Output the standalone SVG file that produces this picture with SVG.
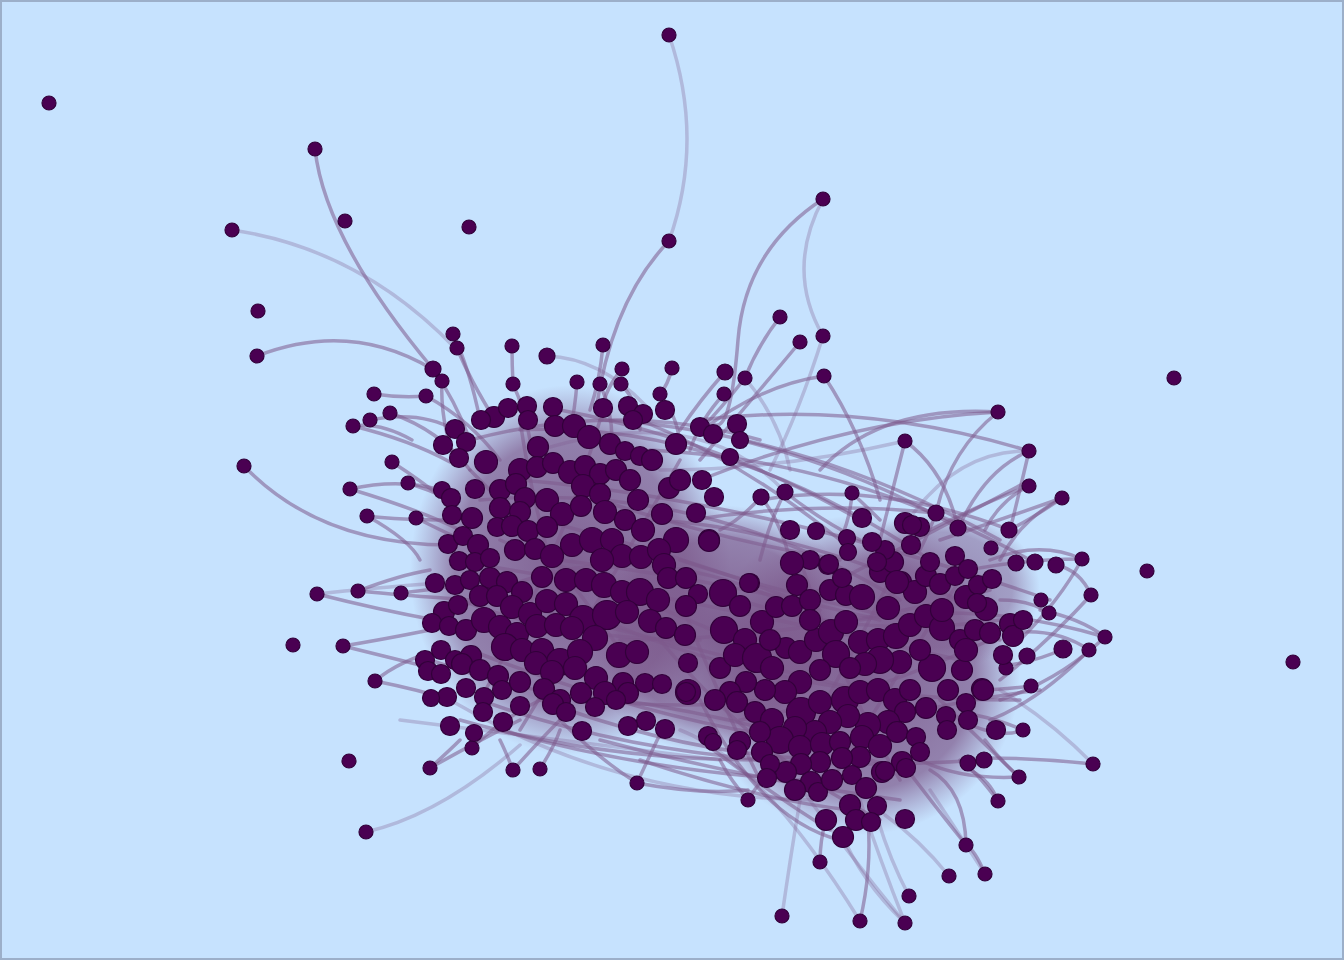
<svg xmlns="http://www.w3.org/2000/svg" width="1344" height="960" viewBox="0 0 1344 960">
<style>
.e path{fill:none;stroke:#7e5a8d;stroke-width:3.5;stroke-opacity:.55;stroke-linecap:round}
.e path.f{stroke-opacity:.3}
.n circle{fill:#4a0052;stroke:#32003a;stroke-width:1.2}
</style>
<defs>
<radialGradient id="bg1"><stop offset="0" stop-color="#7a5689" stop-opacity=".92"/><stop offset=".72" stop-color="#7e5b8d" stop-opacity=".72"/><stop offset="1" stop-color="#8a6c9c" stop-opacity="0"/></radialGradient>
</defs>
<rect x="1" y="1" width="1342" height="958" fill="#c6e2fe" stroke="#9cafc9" stroke-width="2"/>
<g id="backdrop">
<ellipse cx="570" cy="570" rx="160" ry="185" fill="url(#bg1)"/>
<ellipse cx="860" cy="675" rx="160" ry="160" fill="url(#bg1)"/>
<ellipse cx="720" cy="630" rx="140" ry="125" fill="url(#bg1)"/>
<ellipse cx="940" cy="590" rx="100" ry="80" fill="url(#bg1)" opacity=".7"/>
</g>
<g class="e" id="edges">
<path class="f" d="M669,35 Q705,140 669,241"/>
<path d="M669,241 Q612,300 596,410"/>
<path d="M823,199 Q745,250 738,340 T715,425"/>
<path class="f" d="M823,199 Q785,270 823,336"/>
<path d="M315,149 Q325,240 433,369"/>
<path class="f" d="M232,230 C300,240 380,270 455,348"/>
<path d="M257,356 Q350,320 432,369"/>
<path d="M244,466 Q320,545 450,545"/>
<path d="M780,317 Q758,345 745,378"/>
<path d="M824,376 Q760,385 700,432"/>
<path d="M998,412 Q880,405 820,470"/>
<path d="M1029,451 Q985,470 960,525"/>
<path d="M1029,451 Q1020,490 1010,530"/>
<path class="f" d="M1029,451 Q955,450 905,525"/>
<path d="M905,441 Q895,480 880,540"/>
<path d="M637,783 Q700,795 748,790"/>
<path d="M637,783 Q650,755 662,730"/>
<path class="f" d="M366,832 Q440,815 520,745"/>
<path d="M1093,764 Q1040,758 985,758"/>
<path d="M860,921 Q872,870 868,820"/>
<path d="M985,874 Q975,850 966,845"/>
<path d="M966,845 Q965,790 930,770"/>
<path class="f" d="M949,876 Q920,840 885,815"/>
<path d="M1105,637 Q1080,618 1040,610"/>
<path d="M1082,559 Q1040,540 990,560"/>
<path d="M1089,650 Q1060,630 1020,632"/>
<path class="f" d="M909,896 Q890,860 878,820"/>
<path class="f" d="M905,923 Q860,880 840,830"/>
<path d="M820,862 Q820,840 826,820"/>
<path d="M748,800 Q760,780 767,778"/>
<path d="M430,768 Q480,740 520,720"/>
<path d="M472,748 Q500,720 540,700"/>
<path d="M513,770 Q540,740 560,720"/>
<path d="M375,681 Q400,660 440,650"/>
<path d="M343,646 Q380,640 430,630"/>
<path class="f" d="M317,594 Q370,588 440,583"/>
<path d="M358,591 Q400,595 470,600"/>
<path d="M401,593 Q430,590 460,585"/>
<path d="M350,489 Q400,478 440,490"/>
<path d="M367,516 Q400,520 450,520"/>
<path d="M392,462 Q420,480 445,500"/>
<path d="M408,483 Q430,490 452,500"/>
<path d="M416,518 Q440,530 462,540"/>
<path d="M374,394 Q400,398 426,396"/>
<path d="M353,426 Q380,422 412,440"/>
<path d="M370,420 Q420,410 455,430"/>
<path d="M512,346 Q512,365 513,384"/>
<path class="f" d="M547,356 Q600,358 645,405"/>
<path d="M603,345 Q600,380 590,410"/>
<path d="M453,334 Q470,370 480,420"/>
<path d="M457,348 Q470,380 495,420"/>
<path d="M433,369 Q455,400 470,440"/>
<path d="M442,381 Q440,420 455,460"/>
<path d="M672,368 Q668,385 660,394"/>
<path d="M725,372 Q700,400 680,430"/>
<path d="M745,378 Q720,410 700,430"/>
<path d="M1029,486 Q1000,500 985,530"/>
<path d="M1062,498 Q1030,520 1009,530"/>
<path d="M1091,595 Q1080,570 1056,565"/>
<path d="M1063,649 Q1040,660 1010,665"/>
<path d="M1019,777 Q1000,760 985,740"/>
<path d="M998,801 Q990,780 970,770"/>
<path d="M1023,730 Q1000,720 975,715"/>
<path d="M1031,686 Q1000,690 980,690"/>
<path d="M1049,613 Q1030,600 1000,600"/>
<path d="M785,492 Q770,520 760,560"/>
<path d="M761,497 Q780,520 790,560"/>
<path d="M852,493 Q850,520 840,540"/>
<path d="M936,513 Q930,530 920,550"/>
<path class="f" d="M782,916 Q790,860 800,800"/>
<path d="M480,500 Q700,480 900,600"/>
<path d="M520,430 Q720,420 930,560"/>
<path d="M600,420 Q800,430 1000,540"/>
<path d="M650,450 Q850,460 1030,560"/>
<path d="M700,480 Q850,420 998,412"/>
<path d="M540,700 Q700,760 850,760"/>
<path d="M470,650 Q650,720 800,740"/>
<path d="M500,600 Q700,650 900,700"/>
<path d="M560,560 Q720,580 880,620"/>
<path d="M640,520 Q760,520 960,600"/>
<path d="M450,560 Q700,600 960,660"/>
<path d="M620,700 Q760,720 900,770"/>
<path d="M680,560 Q800,600 1000,640"/>
<path d="M520,480 Q760,500 1050,600"/>
<path d="M600,740 Q750,780 900,800"/>
<path d="M700,700 Q760,820 840,840"/>
<path d="M760,500 Q880,480 1010,530"/>
<path d="M700,420 Q860,400 1029,451"/>
<path d="M740,440 Q860,470 958,528"/>
<path d="M440,620 Q600,520 780,600"/>
<path d="M430,660 Q600,720 760,700"/>
<path class="f" d="M400,720 Q560,740 720,760"/>
<path class="f" d="M660,470 Q780,470 905,441"/>
<path d="M690,520 Q820,500 936,513"/>
<path d="M620,640 Q800,640 990,590"/>
<path d="M560,600 Q760,700 1020,700"/>
<path d="M480,700 Q700,780 980,760"/>
<path d="M640,760 Q760,800 850,810"/>
<path d="M700,740 Q780,800 830,830"/>
<path class="f" d="M540,450 Q700,400 785,492"/>
<path d="M460,600 Q560,640 700,640"/>
<path d="M500,540 Q640,600 760,650"/>
<path d="M540,520 Q700,560 820,610"/>
<path d="M600,500 Q720,540 840,560"/>
<path d="M470,470 Q560,560 620,650"/>
<path d="M520,420 Q540,560 600,700"/>
<path d="M600,420 Q560,560 480,700"/>
<path d="M680,460 Q600,600 520,730"/>
<path d="M800,560 Q840,680 900,780"/>
<path d="M900,560 Q840,680 780,780"/>
<path d="M960,580 Q880,700 820,800"/>
<path d="M740,600 Q860,640 1000,620"/>
<path d="M740,720 Q860,700 990,640"/>
<path d="M760,620 Q880,560 1030,480"/>
<path class="f" d="M680,730 Q760,760 860,921"/>
<path class="f" d="M740,700 Q820,820 905,923"/>
<path d="M880,720 Q960,700 1040,690"/>
<path d="M880,600 Q960,560 1082,559"/>
<path d="M860,620 Q980,600 1105,637"/>
<path d="M426,396 Q470,420 500,460"/>
<path d="M390,413 Q440,430 470,470"/>
<path d="M353,426 Q410,440 450,462"/>
<path d="M513,384 Q525,410 530,440"/>
<path d="M577,382 Q575,410 570,430"/>
<path d="M600,384 Q612,410 612,440"/>
<path d="M621,384 Q640,405 640,430"/>
<path d="M622,369 Q600,395 602,420"/>
<path d="M660,394 Q680,420 680,450"/>
<path d="M724,394 Q700,420 690,450"/>
<path class="f" d="M745,378 Q780,420 790,470"/>
<path d="M800,342 Q760,390 700,460"/>
<path class="f" d="M823,336 Q800,410 770,470"/>
<path d="M824,376 Q860,430 880,500"/>
<path d="M905,441 Q945,470 958,528"/>
<path d="M998,412 Q950,450 936,513"/>
<path d="M1062,498 Q1020,520 1000,560"/>
<path d="M1082,559 Q1060,600 1020,640"/>
<path d="M1091,595 Q1050,640 1000,680"/>
<path d="M1105,637 Q1060,680 1000,700"/>
<path d="M1089,650 Q1040,700 990,720"/>
<path class="f" d="M1093,764 Q1050,720 1000,690"/>
<path d="M1019,777 Q980,740 940,700"/>
<path d="M998,801 Q975,770 960,760"/>
<path d="M966,845 Q930,800 900,760"/>
<path class="f" d="M985,874 Q950,820 930,790"/>
<path class="f" d="M905,923 Q880,860 860,800"/>
<path d="M748,800 Q730,780 720,760"/>
<path d="M637,783 Q600,760 560,720"/>
<path d="M540,769 Q555,745 560,730"/>
<path d="M513,770 Q505,750 500,740"/>
<path d="M430,768 Q450,750 460,740"/>
<path d="M375,681 Q420,690 450,700"/>
<path d="M343,646 Q400,660 440,670"/>
<path d="M317,594 Q380,610 435,620"/>
<path d="M358,591 Q400,575 430,570"/>
<path d="M350,489 Q420,510 460,530"/>
<path d="M367,516 Q410,540 420,560"/>
<path d="M785,492 Q820,520 860,540"/>
<path d="M852,493 Q870,510 880,520"/>
<path d="M761,497 Q740,520 720,530"/>
<path d="M460,720 Q600,760 760,760"/>
<path d="M500,730 Q640,770 800,780"/>
<path class="f" d="M450,700 Q620,800 820,800"/>
<path d="M640,420 Q740,460 840,540"/>
<path d="M560,410 Q720,440 860,520"/>
<path d="M470,440 Q620,400 760,440"/>
<path d="M940,540 Q1000,520 1062,498"/>
<path d="M930,530 Q990,500 1029,486"/>
<path d="M960,720 Q1000,740 1023,730"/>
<path d="M920,760 Q960,780 1019,777"/>
<path d="M680,600 Q720,700 760,780"/>
<path d="M660,640 Q760,760 880,820"/>
</g>
<g class="n" id="nodes">
<g id="n1"><circle cx="49" cy="103" r="7"/></g>
<g id="n2"><circle cx="669" cy="35" r="7"/></g>
<g id="n3"><circle cx="1174" cy="378" r="7"/></g>
<g id="n4"><circle cx="1293" cy="662" r="7"/></g>
<g id="n5"><circle cx="1147" cy="571" r="7"/></g>
<g id="n6"><circle cx="469" cy="227" r="7"/></g>
<g id="n7"><circle cx="345" cy="221" r="7"/></g>
<g id="n8"><circle cx="258" cy="311" r="7"/></g>
<g id="n9"><circle cx="315" cy="149" r="7"/></g>
<g id="n10"><circle cx="232" cy="230" r="7"/></g>
<g id="n11"><circle cx="257" cy="356" r="7"/></g>
<g id="n12"><circle cx="244" cy="466" r="7"/></g>
<g id="n13"><circle cx="669" cy="241" r="7"/></g>
<g id="n14"><circle cx="823" cy="199" r="7"/></g>
<g id="n15"><circle cx="780" cy="317" r="7"/></g>
<g id="n16"><circle cx="800" cy="342" r="7"/></g>
<g id="n17"><circle cx="823" cy="336" r="7"/></g>
<g id="n18"><circle cx="824" cy="376" r="7"/></g>
<g id="n19"><circle cx="603" cy="345" r="7"/></g>
<g id="n20"><circle cx="512" cy="346" r="7"/></g>
<g id="n21"><circle cx="453" cy="334" r="7"/></g>
<g id="n22"><circle cx="457" cy="348" r="7"/></g>
<g id="n23"><circle cx="433" cy="369" r="8"/></g>
<g id="n24"><circle cx="442" cy="381" r="7"/></g>
<g id="n25"><circle cx="426" cy="396" r="7"/></g>
<g id="n26"><circle cx="374" cy="394" r="7"/></g>
<g id="n27"><circle cx="390" cy="413" r="7"/></g>
<g id="n28"><circle cx="353" cy="426" r="7"/></g>
<g id="n29"><circle cx="370" cy="420" r="7"/></g>
<g id="n30"><circle cx="513" cy="384" r="7"/></g>
<g id="n31"><circle cx="577" cy="382" r="7"/></g>
<g id="n32"><circle cx="600" cy="384" r="7"/></g>
<g id="n33"><circle cx="621" cy="384" r="7"/></g>
<g id="n34"><circle cx="622" cy="369" r="7"/></g>
<g id="n35"><circle cx="672" cy="368" r="7"/></g>
<g id="n36"><circle cx="660" cy="394" r="7"/></g>
<g id="n37"><circle cx="725" cy="372" r="8"/></g>
<g id="n38"><circle cx="745" cy="378" r="7"/></g>
<g id="n39"><circle cx="724" cy="394" r="7"/></g>
<g id="n40"><circle cx="998" cy="412" r="7"/></g>
<g id="n41"><circle cx="905" cy="441" r="7"/></g>
<g id="n42"><circle cx="1029" cy="451" r="7"/></g>
<g id="n43"><circle cx="1029" cy="486" r="7"/></g>
<g id="n44"><circle cx="1062" cy="498" r="7"/></g>
<g id="n45"><circle cx="785" cy="492" r="8"/></g>
<g id="n46"><circle cx="852" cy="493" r="7"/></g>
<g id="n47"><circle cx="936" cy="513" r="8"/></g>
<g id="n48"><circle cx="958" cy="528" r="8"/></g>
<g id="n49"><circle cx="1009" cy="530" r="8"/></g>
<g id="n50"><circle cx="991" cy="548" r="7"/></g>
<g id="n51"><circle cx="1082" cy="559" r="7"/></g>
<g id="n52"><circle cx="1056" cy="565" r="8"/></g>
<g id="n53"><circle cx="1035" cy="562" r="8"/></g>
<g id="n54"><circle cx="1016" cy="563" r="8"/></g>
<g id="n55"><circle cx="1091" cy="595" r="7"/></g>
<g id="n56"><circle cx="1105" cy="637" r="7"/></g>
<g id="n57"><circle cx="1089" cy="650" r="7"/></g>
<g id="n58"><circle cx="1063" cy="649" r="9"/></g>
<g id="n59"><circle cx="1041" cy="600" r="7"/></g>
<g id="n60"><circle cx="1049" cy="613" r="7"/></g>
<g id="n61"><circle cx="1027" cy="656" r="8"/></g>
<g id="n62"><circle cx="1031" cy="686" r="7"/></g>
<g id="n63"><circle cx="1006" cy="668" r="7"/></g>
<g id="n64"><circle cx="1023" cy="730" r="7"/></g>
<g id="n65"><circle cx="1019" cy="777" r="7"/></g>
<g id="n66"><circle cx="998" cy="801" r="7"/></g>
<g id="n67"><circle cx="984" cy="760" r="8"/></g>
<g id="n68"><circle cx="968" cy="763" r="8"/></g>
<g id="n69"><circle cx="966" cy="845" r="7"/></g>
<g id="n70"><circle cx="985" cy="874" r="7"/></g>
<g id="n71"><circle cx="949" cy="876" r="7"/></g>
<g id="n72"><circle cx="909" cy="896" r="7"/></g>
<g id="n73"><circle cx="905" cy="923" r="7"/></g>
<g id="n74"><circle cx="860" cy="921" r="7"/></g>
<g id="n75"><circle cx="782" cy="916" r="7"/></g>
<g id="n76"><circle cx="820" cy="862" r="7"/></g>
<g id="n77"><circle cx="1093" cy="764" r="7"/></g>
<g id="n78"><circle cx="637" cy="783" r="7"/></g>
<g id="n79"><circle cx="748" cy="800" r="7"/></g>
<g id="n80"><circle cx="540" cy="769" r="7"/></g>
<g id="n81"><circle cx="513" cy="770" r="7"/></g>
<g id="n82"><circle cx="430" cy="768" r="7"/></g>
<g id="n83"><circle cx="472" cy="748" r="7"/></g>
<g id="n84"><circle cx="349" cy="761" r="7"/></g>
<g id="n85"><circle cx="366" cy="832" r="7"/></g>
<g id="n86"><circle cx="375" cy="681" r="7"/></g>
<g id="n87"><circle cx="293" cy="645" r="7"/></g>
<g id="n88"><circle cx="343" cy="646" r="7"/></g>
<g id="n89"><circle cx="317" cy="594" r="7"/></g>
<g id="n90"><circle cx="358" cy="591" r="7"/></g>
<g id="n91"><circle cx="401" cy="593" r="7"/></g>
<g id="n92"><circle cx="350" cy="489" r="7"/></g>
<g id="n93"><circle cx="367" cy="516" r="7"/></g>
<g id="n94"><circle cx="408" cy="483" r="7"/></g>
<g id="n95"><circle cx="416" cy="518" r="7"/></g>
<g id="n96"><circle cx="392" cy="462" r="7"/></g>
<g id="n97"><circle cx="547" cy="356" r="8"/></g>
<g id="n98"><circle cx="761" cy="497" r="8"/></g>
<g id="n99"><circle cx="494" cy="417" r="10.5"/></g>
<g id="n100"><circle cx="508" cy="408" r="9.5"/></g>
<g id="n101"><circle cx="527" cy="406" r="9.5"/></g>
<g id="n102"><circle cx="553" cy="407" r="9.5"/></g>
<g id="n103"><circle cx="528" cy="420" r="9.5"/></g>
<g id="n104"><circle cx="555" cy="426" r="10.5"/></g>
<g id="n105"><circle cx="574" cy="426" r="11.5"/></g>
<g id="n106"><circle cx="589" cy="437" r="11.5"/></g>
<g id="n107"><circle cx="603" cy="408" r="9.5"/></g>
<g id="n108"><circle cx="628" cy="406" r="9.5"/></g>
<g id="n109"><circle cx="643" cy="414" r="9.5"/></g>
<g id="n110"><circle cx="633" cy="420" r="9.5"/></g>
<g id="n111"><circle cx="665" cy="410" r="9.5"/></g>
<g id="n112"><circle cx="455" cy="429" r="9.5"/></g>
<g id="n113"><circle cx="481" cy="420" r="9.5"/></g>
<g id="n114"><circle cx="486" cy="462" r="11.5"/></g>
<g id="n115"><circle cx="443" cy="445" r="9.5"/></g>
<g id="n116"><circle cx="466" cy="442" r="9.5"/></g>
<g id="n117"><circle cx="459" cy="458" r="9.5"/></g>
<g id="n118"><circle cx="538" cy="447" r="10.5"/></g>
<g id="n119"><circle cx="610" cy="444" r="10.5"/></g>
<g id="n120"><circle cx="625" cy="451" r="9.5"/></g>
<g id="n121"><circle cx="640" cy="456" r="9.5"/></g>
<g id="n122"><circle cx="652" cy="460" r="10.5"/></g>
<g id="n123"><circle cx="676" cy="444" r="10.5"/></g>
<g id="n124"><circle cx="700" cy="427" r="9.5"/></g>
<g id="n125"><circle cx="713" cy="434" r="9.5"/></g>
<g id="n126"><circle cx="737" cy="424" r="9.5"/></g>
<g id="n127"><circle cx="740" cy="440" r="8.5"/></g>
<g id="n128"><circle cx="730" cy="457" r="8.5"/></g>
<g id="n129"><circle cx="520" cy="470" r="11.5"/></g>
<g id="n130"><circle cx="537" cy="467" r="10.5"/></g>
<g id="n131"><circle cx="553" cy="463" r="10.5"/></g>
<g id="n132"><circle cx="570" cy="472" r="11.5"/></g>
<g id="n133"><circle cx="585" cy="466" r="10.5"/></g>
<g id="n134"><circle cx="600" cy="474" r="10.5"/></g>
<g id="n135"><circle cx="616" cy="470" r="10.5"/></g>
<g id="n136"><circle cx="630" cy="480" r="10.5"/></g>
<g id="n137"><circle cx="669" cy="488" r="10.5"/></g>
<g id="n138"><circle cx="680" cy="480" r="10.5"/></g>
<g id="n139"><circle cx="702" cy="480" r="9.5"/></g>
<g id="n140"><circle cx="714" cy="497" r="9.5"/></g>
<g id="n141"><circle cx="442" cy="490" r="8.5"/></g>
<g id="n142"><circle cx="451" cy="498" r="9.5"/></g>
<g id="n143"><circle cx="475" cy="489" r="9.5"/></g>
<g id="n144"><circle cx="500" cy="490" r="10.5"/></g>
<g id="n145"><circle cx="516" cy="484" r="10.5"/></g>
<g id="n146"><circle cx="525" cy="498" r="10.5"/></g>
<g id="n147"><circle cx="547" cy="500" r="11.5"/></g>
<g id="n148"><circle cx="583" cy="486" r="11.5"/></g>
<g id="n149"><circle cx="600" cy="494" r="10.5"/></g>
<g id="n150"><circle cx="638" cy="500" r="10.5"/></g>
<g id="n151"><circle cx="662" cy="514" r="10.5"/></g>
<g id="n152"><circle cx="452" cy="515" r="9.5"/></g>
<g id="n153"><circle cx="472" cy="518" r="10.5"/></g>
<g id="n154"><circle cx="500" cy="508" r="10.5"/></g>
<g id="n155"><circle cx="520" cy="512" r="10.5"/></g>
<g id="n156"><circle cx="562" cy="514" r="11.5"/></g>
<g id="n157"><circle cx="581" cy="506" r="10.5"/></g>
<g id="n158"><circle cx="605" cy="512" r="11.5"/></g>
<g id="n159"><circle cx="625" cy="520" r="10.5"/></g>
<g id="n160"><circle cx="643" cy="530" r="11.5"/></g>
<g id="n161"><circle cx="676" cy="540" r="12.5"/></g>
<g id="n162"><circle cx="696" cy="513" r="9.5"/></g>
<g id="n163"><circle cx="709" cy="540" r="10.5"/></g>
<g id="n164"><circle cx="448" cy="544" r="9.5"/></g>
<g id="n165"><circle cx="463" cy="536" r="9.5"/></g>
<g id="n166"><circle cx="478" cy="545" r="10.5"/></g>
<g id="n167"><circle cx="497" cy="527" r="9.5"/></g>
<g id="n168"><circle cx="512" cy="526" r="10.5"/></g>
<g id="n169"><circle cx="528" cy="531" r="10.5"/></g>
<g id="n170"><circle cx="547" cy="527" r="10.5"/></g>
<g id="n171"><circle cx="572" cy="545" r="11.5"/></g>
<g id="n172"><circle cx="592" cy="540" r="12.5"/></g>
<g id="n173"><circle cx="612" cy="540" r="11.5"/></g>
<g id="n174"><circle cx="622" cy="556" r="11.5"/></g>
<g id="n175"><circle cx="641" cy="557" r="11.5"/></g>
<g id="n176"><circle cx="659" cy="550" r="11.5"/></g>
<g id="n177"><circle cx="459" cy="561" r="9.5"/></g>
<g id="n178"><circle cx="475" cy="562" r="9.5"/></g>
<g id="n179"><circle cx="490" cy="558" r="9.5"/></g>
<g id="n180"><circle cx="515" cy="550" r="10.5"/></g>
<g id="n181"><circle cx="535" cy="549" r="10.5"/></g>
<g id="n182"><circle cx="552" cy="556" r="11.5"/></g>
<g id="n183"><circle cx="602" cy="560" r="11.5"/></g>
<g id="n184"><circle cx="664" cy="565" r="11.5"/></g>
<g id="n185"><circle cx="668" cy="578" r="10.5"/></g>
<g id="n186"><circle cx="686" cy="578" r="10.5"/></g>
<g id="n187"><circle cx="698" cy="594" r="9.5"/></g>
<g id="n188"><circle cx="435" cy="583" r="9.5"/></g>
<g id="n189"><circle cx="455" cy="585" r="9.5"/></g>
<g id="n190"><circle cx="470" cy="580" r="9.5"/></g>
<g id="n191"><circle cx="490" cy="578" r="10.5"/></g>
<g id="n192"><circle cx="507" cy="582" r="10.5"/></g>
<g id="n193"><circle cx="522" cy="592" r="10.5"/></g>
<g id="n194"><circle cx="542" cy="577" r="10.5"/></g>
<g id="n195"><circle cx="566" cy="580" r="11.5"/></g>
<g id="n196"><circle cx="586" cy="580" r="11.5"/></g>
<g id="n197"><circle cx="604" cy="585" r="12.5"/></g>
<g id="n198"><circle cx="622" cy="592" r="11.5"/></g>
<g id="n199"><circle cx="640" cy="592" r="13.5"/></g>
<g id="n200"><circle cx="658" cy="600" r="11.5"/></g>
<g id="n201"><circle cx="444" cy="612" r="10.5"/></g>
<g id="n202"><circle cx="458" cy="605" r="9.5"/></g>
<g id="n203"><circle cx="480" cy="596" r="10.5"/></g>
<g id="n204"><circle cx="497" cy="596" r="10.5"/></g>
<g id="n205"><circle cx="512" cy="607" r="11.5"/></g>
<g id="n206"><circle cx="530" cy="614" r="11.5"/></g>
<g id="n207"><circle cx="547" cy="601" r="11.5"/></g>
<g id="n208"><circle cx="566" cy="604" r="11.5"/></g>
<g id="n209"><circle cx="583" cy="619" r="13.5"/></g>
<g id="n210"><circle cx="607" cy="615" r="14.5"/></g>
<g id="n211"><circle cx="627" cy="612" r="11.5"/></g>
<g id="n212"><circle cx="650" cy="621" r="11.5"/></g>
<g id="n213"><circle cx="432" cy="623" r="9.5"/></g>
<g id="n214"><circle cx="449" cy="626" r="9.5"/></g>
<g id="n215"><circle cx="466" cy="630" r="10.5"/></g>
<g id="n216"><circle cx="484" cy="620" r="12.5"/></g>
<g id="n217"><circle cx="500" cy="627" r="11.5"/></g>
<g id="n218"><circle cx="517" cy="634" r="11.5"/></g>
<g id="n219"><circle cx="537" cy="626" r="11.5"/></g>
<g id="n220"><circle cx="556" cy="625" r="11.5"/></g>
<g id="n221"><circle cx="572" cy="628" r="11.5"/></g>
<g id="n222"><circle cx="595" cy="638" r="12.5"/></g>
<g id="n223"><circle cx="666" cy="628" r="10.5"/></g>
<g id="n224"><circle cx="685" cy="635" r="10.5"/></g>
<g id="n225"><circle cx="425" cy="660" r="9.5"/></g>
<g id="n226"><circle cx="441" cy="650" r="9.5"/></g>
<g id="n227"><circle cx="455" cy="660" r="9.5"/></g>
<g id="n228"><circle cx="471" cy="656" r="10.5"/></g>
<g id="n229"><circle cx="505" cy="647" r="13.5"/></g>
<g id="n230"><circle cx="522" cy="650" r="11.5"/></g>
<g id="n231"><circle cx="542" cy="650" r="11.5"/></g>
<g id="n232"><circle cx="560" cy="662" r="13.5"/></g>
<g id="n233"><circle cx="580" cy="652" r="12.5"/></g>
<g id="n234"><circle cx="619" cy="655" r="12.5"/></g>
<g id="n235"><circle cx="637" cy="652" r="11.5"/></g>
<g id="n236"><circle cx="428" cy="671" r="9.5"/></g>
<g id="n237"><circle cx="441" cy="674" r="9.5"/></g>
<g id="n238"><circle cx="462" cy="664" r="10.5"/></g>
<g id="n239"><circle cx="480" cy="670" r="10.5"/></g>
<g id="n240"><circle cx="498" cy="676" r="10.5"/></g>
<g id="n241"><circle cx="536" cy="663" r="11.5"/></g>
<g id="n242"><circle cx="552" cy="672" r="11.5"/></g>
<g id="n243"><circle cx="575" cy="668" r="11.5"/></g>
<g id="n244"><circle cx="596" cy="678" r="11.5"/></g>
<g id="n245"><circle cx="623" cy="683" r="10.5"/></g>
<g id="n246"><circle cx="447" cy="697" r="9.5"/></g>
<g id="n247"><circle cx="466" cy="688" r="9.5"/></g>
<g id="n248"><circle cx="484" cy="697" r="9.5"/></g>
<g id="n249"><circle cx="502" cy="690" r="9.5"/></g>
<g id="n250"><circle cx="520" cy="682" r="10.5"/></g>
<g id="n251"><circle cx="544" cy="689" r="10.5"/></g>
<g id="n252"><circle cx="560" cy="700" r="10.5"/></g>
<g id="n253"><circle cx="581" cy="693" r="10.5"/></g>
<g id="n254"><circle cx="605" cy="693" r="11.5"/></g>
<g id="n255"><circle cx="628" cy="693" r="10.5"/></g>
<g id="n256"><circle cx="645" cy="683" r="9.5"/></g>
<g id="n257"><circle cx="662" cy="684" r="9.5"/></g>
<g id="n258"><circle cx="688" cy="692" r="12.5"/></g>
<g id="n259"><circle cx="688" cy="663" r="9.5"/></g>
<g id="n260"><circle cx="431" cy="698" r="8.5"/></g>
<g id="n261"><circle cx="450" cy="726" r="9.5"/></g>
<g id="n262"><circle cx="474" cy="733" r="8.5"/></g>
<g id="n263"><circle cx="503" cy="722" r="9.5"/></g>
<g id="n264"><circle cx="483" cy="712" r="9.5"/></g>
<g id="n265"><circle cx="520" cy="706" r="9.5"/></g>
<g id="n266"><circle cx="553" cy="704" r="10.5"/></g>
<g id="n267"><circle cx="566" cy="712" r="9.5"/></g>
<g id="n268"><circle cx="595" cy="707" r="9.5"/></g>
<g id="n269"><circle cx="616" cy="700" r="9.5"/></g>
<g id="n270"><circle cx="646" cy="721" r="9.5"/></g>
<g id="n271"><circle cx="665" cy="729" r="9.5"/></g>
<g id="n272"><circle cx="628" cy="726" r="9.5"/></g>
<g id="n273"><circle cx="582" cy="731" r="9.5"/></g>
<g id="n274"><circle cx="723" cy="593" r="13.5"/></g>
<g id="n275"><circle cx="740" cy="606" r="10.5"/></g>
<g id="n276"><circle cx="750" cy="583" r="9.5"/></g>
<g id="n277"><circle cx="724" cy="630" r="13.5"/></g>
<g id="n278"><circle cx="745" cy="640" r="11.5"/></g>
<g id="n279"><circle cx="762" cy="622" r="11.5"/></g>
<g id="n280"><circle cx="776" cy="607" r="10.5"/></g>
<g id="n281"><circle cx="797" cy="585" r="10.5"/></g>
<g id="n282"><circle cx="792" cy="606" r="10.5"/></g>
<g id="n283"><circle cx="810" cy="600" r="10.5"/></g>
<g id="n284"><circle cx="830" cy="590" r="10.5"/></g>
<g id="n285"><circle cx="846" cy="595" r="10.5"/></g>
<g id="n286"><circle cx="862" cy="597" r="12.5"/></g>
<g id="n287"><circle cx="880" cy="572" r="10.5"/></g>
<g id="n288"><circle cx="893" cy="562" r="10.5"/></g>
<g id="n289"><circle cx="901" cy="582" r="10.5"/></g>
<g id="n290"><circle cx="915" cy="592" r="11.5"/></g>
<g id="n291"><circle cx="926" cy="576" r="10.5"/></g>
<g id="n292"><circle cx="940" cy="584" r="10.5"/></g>
<g id="n293"><circle cx="955" cy="576" r="9.5"/></g>
<g id="n294"><circle cx="966" cy="597" r="11.5"/></g>
<g id="n295"><circle cx="986" cy="609" r="11.5"/></g>
<g id="n296"><circle cx="978" cy="585" r="9.5"/></g>
<g id="n297"><circle cx="955" cy="556" r="9.5"/></g>
<g id="n298"><circle cx="968" cy="569" r="9.5"/></g>
<g id="n299"><circle cx="930" cy="562" r="9.5"/></g>
<g id="n300"><circle cx="911" cy="545" r="9.5"/></g>
<g id="n301"><circle cx="920" cy="527" r="9.5"/></g>
<g id="n302"><circle cx="885" cy="550" r="9.5"/></g>
<g id="n303"><circle cx="877" cy="562" r="9.5"/></g>
<g id="n304"><circle cx="842" cy="578" r="9.5"/></g>
<g id="n305"><circle cx="828" cy="565" r="9.5"/></g>
<g id="n306"><circle cx="810" cy="560" r="9.5"/></g>
<g id="n307"><circle cx="792" cy="563" r="11.5"/></g>
<g id="n308"><circle cx="816" cy="531" r="8.5"/></g>
<g id="n309"><circle cx="847" cy="538" r="8.5"/></g>
<g id="n310"><circle cx="862" cy="518" r="9.5"/></g>
<g id="n311"><circle cx="905" cy="523" r="10.5"/></g>
<g id="n312"><circle cx="912" cy="525" r="9.5"/></g>
<g id="n313"><circle cx="872" cy="542" r="9.5"/></g>
<g id="n314"><circle cx="720" cy="668" r="10.5"/></g>
<g id="n315"><circle cx="735" cy="655" r="11.5"/></g>
<g id="n316"><circle cx="757" cy="658" r="14.5"/></g>
<g id="n317"><circle cx="772" cy="668" r="11.5"/></g>
<g id="n318"><circle cx="786" cy="648" r="10.5"/></g>
<g id="n319"><circle cx="800" cy="652" r="11.5"/></g>
<g id="n320"><circle cx="816" cy="640" r="11.5"/></g>
<g id="n321"><circle cx="831" cy="632" r="12.5"/></g>
<g id="n322"><circle cx="836" cy="654" r="13.5"/></g>
<g id="n323"><circle cx="860" cy="642" r="11.5"/></g>
<g id="n324"><circle cx="878" cy="640" r="11.5"/></g>
<g id="n325"><circle cx="896" cy="636" r="12.5"/></g>
<g id="n326"><circle cx="910" cy="625" r="11.5"/></g>
<g id="n327"><circle cx="926" cy="616" r="11.5"/></g>
<g id="n328"><circle cx="942" cy="628" r="12.5"/></g>
<g id="n329"><circle cx="960" cy="640" r="10.5"/></g>
<g id="n330"><circle cx="975" cy="630" r="10.5"/></g>
<g id="n331"><circle cx="990" cy="633" r="10.5"/></g>
<g id="n332"><circle cx="1010" cy="624" r="10.5"/></g>
<g id="n333"><circle cx="1013" cy="636" r="10.5"/></g>
<g id="n334"><circle cx="1003" cy="655" r="9.5"/></g>
<g id="n335"><circle cx="962" cy="670" r="10.5"/></g>
<g id="n336"><circle cx="932" cy="668" r="13.5"/></g>
<g id="n337"><circle cx="920" cy="650" r="10.5"/></g>
<g id="n338"><circle cx="900" cy="662" r="11.5"/></g>
<g id="n339"><circle cx="880" cy="660" r="13.5"/></g>
<g id="n340"><circle cx="865" cy="664" r="11.5"/></g>
<g id="n341"><circle cx="850" cy="668" r="10.5"/></g>
<g id="n342"><circle cx="820" cy="670" r="10.5"/></g>
<g id="n343"><circle cx="800" cy="682" r="11.5"/></g>
<g id="n344"><circle cx="785" cy="692" r="11.5"/></g>
<g id="n345"><circle cx="765" cy="690" r="10.5"/></g>
<g id="n346"><circle cx="746" cy="682" r="10.5"/></g>
<g id="n347"><circle cx="730" cy="692" r="10.5"/></g>
<g id="n348"><circle cx="715" cy="700" r="10.5"/></g>
<g id="n349"><circle cx="737" cy="702" r="10.5"/></g>
<g id="n350"><circle cx="755" cy="712" r="10.5"/></g>
<g id="n351"><circle cx="772" cy="720" r="11.5"/></g>
<g id="n352"><circle cx="801" cy="712" r="14.5"/></g>
<g id="n353"><circle cx="820" cy="702" r="11.5"/></g>
<g id="n354"><circle cx="845" cy="700" r="13.5"/></g>
<g id="n355"><circle cx="860" cy="692" r="11.5"/></g>
<g id="n356"><circle cx="878" cy="690" r="11.5"/></g>
<g id="n357"><circle cx="895" cy="700" r="11.5"/></g>
<g id="n358"><circle cx="910" cy="690" r="10.5"/></g>
<g id="n359"><circle cx="948" cy="690" r="10.5"/></g>
<g id="n360"><circle cx="966" cy="703" r="9.5"/></g>
<g id="n361"><circle cx="982" cy="689" r="10.5"/></g>
<g id="n362"><circle cx="946" cy="716" r="9.5"/></g>
<g id="n363"><circle cx="926" cy="708" r="10.5"/></g>
<g id="n364"><circle cx="905" cy="712" r="10.5"/></g>
<g id="n365"><circle cx="888" cy="722" r="11.5"/></g>
<g id="n366"><circle cx="868" cy="725" r="12.5"/></g>
<g id="n367"><circle cx="848" cy="716" r="11.5"/></g>
<g id="n368"><circle cx="830" cy="722" r="11.5"/></g>
<g id="n369"><circle cx="815" cy="732" r="11.5"/></g>
<g id="n370"><circle cx="795" cy="728" r="11.5"/></g>
<g id="n371"><circle cx="780" cy="740" r="13.5"/></g>
<g id="n372"><circle cx="760" cy="732" r="10.5"/></g>
<g id="n373"><circle cx="740" cy="742" r="10.5"/></g>
<g id="n374"><circle cx="762" cy="752" r="10.5"/></g>
<g id="n375"><circle cx="800" cy="747" r="11.5"/></g>
<g id="n376"><circle cx="822" cy="744" r="11.5"/></g>
<g id="n377"><circle cx="840" cy="742" r="10.5"/></g>
<g id="n378"><circle cx="862" cy="737" r="11.5"/></g>
<g id="n379"><circle cx="880" cy="746" r="11.5"/></g>
<g id="n380"><circle cx="897" cy="732" r="10.5"/></g>
<g id="n381"><circle cx="916" cy="737" r="9.5"/></g>
<g id="n382"><circle cx="920" cy="752" r="9.5"/></g>
<g id="n383"><circle cx="902" cy="762" r="10.5"/></g>
<g id="n384"><circle cx="882" cy="772" r="10.5"/></g>
<g id="n385"><circle cx="860" cy="757" r="10.5"/></g>
<g id="n386"><circle cx="842" cy="758" r="10.5"/></g>
<g id="n387"><circle cx="820" cy="762" r="10.5"/></g>
<g id="n388"><circle cx="801" cy="764" r="10.5"/></g>
<g id="n389"><circle cx="786" cy="772" r="10.5"/></g>
<g id="n390"><circle cx="770" cy="764" r="9.5"/></g>
<g id="n391"><circle cx="811" cy="782" r="10.5"/></g>
<g id="n392"><circle cx="795" cy="790" r="10.5"/></g>
<g id="n393"><circle cx="818" cy="792" r="9.5"/></g>
<g id="n394"><circle cx="832" cy="780" r="10.5"/></g>
<g id="n395"><circle cx="852" cy="775" r="9.5"/></g>
<g id="n396"><circle cx="866" cy="788" r="10.5"/></g>
<g id="n397"><circle cx="885" cy="771" r="9.5"/></g>
<g id="n398"><circle cx="906" cy="768" r="9.5"/></g>
<g id="n399"><circle cx="850" cy="805" r="10.5"/></g>
<g id="n400"><circle cx="877" cy="806" r="9.5"/></g>
<g id="n401"><circle cx="856" cy="820" r="10.5"/></g>
<g id="n402"><circle cx="843" cy="837" r="10.5"/></g>
<g id="n403"><circle cx="826" cy="820" r="10.5"/></g>
<g id="n404"><circle cx="871" cy="822" r="9.5"/></g>
<g id="n405"><circle cx="905" cy="819" r="9.5"/></g>
<g id="n406"><circle cx="767" cy="778" r="9.5"/></g>
<g id="n407"><circle cx="737" cy="750" r="9.5"/></g>
<g id="n408"><circle cx="686" cy="692" r="9.5"/></g>
<g id="n409"><circle cx="708" cy="736" r="9.5"/></g>
<g id="n410"><circle cx="713" cy="742" r="8.5"/></g>
<g id="n411"><circle cx="686" cy="606" r="10.5"/></g>
<g id="n412"><circle cx="709" cy="541" r="10.5"/></g>
<g id="n413"><circle cx="749" cy="583" r="9.5"/></g>
<g id="n414"><circle cx="966" cy="650" r="11.5"/></g>
<g id="n415"><circle cx="983" cy="690" r="10.5"/></g>
<g id="n416"><circle cx="968" cy="720" r="9.5"/></g>
<g id="n417"><circle cx="996" cy="730" r="9.5"/></g>
<g id="n418"><circle cx="947" cy="730" r="9.5"/></g>
<g id="n419"><circle cx="942" cy="610" r="11.5"/></g>
<g id="n420"><circle cx="888" cy="608" r="11.5"/></g>
<g id="n421"><circle cx="846" cy="622" r="11.5"/></g>
<g id="n422"><circle cx="810" cy="620" r="10.5"/></g>
<g id="n423"><circle cx="770" cy="640" r="10.5"/></g>
<g id="n424"><circle cx="992" cy="579" r="9.5"/></g>
<g id="n425"><circle cx="1023" cy="620" r="9.5"/></g>
<g id="n426"><circle cx="977" cy="603" r="9.5"/></g>
<g id="n427"><circle cx="848" cy="552" r="8.5"/></g>
<g id="n428"><circle cx="897" cy="582" r="11.5"/></g>
<g id="n429"><circle cx="790" cy="530" r="9.5"/></g>
<g id="n430"><circle cx="829" cy="564" r="9.5"/></g>
</g>
</svg>
